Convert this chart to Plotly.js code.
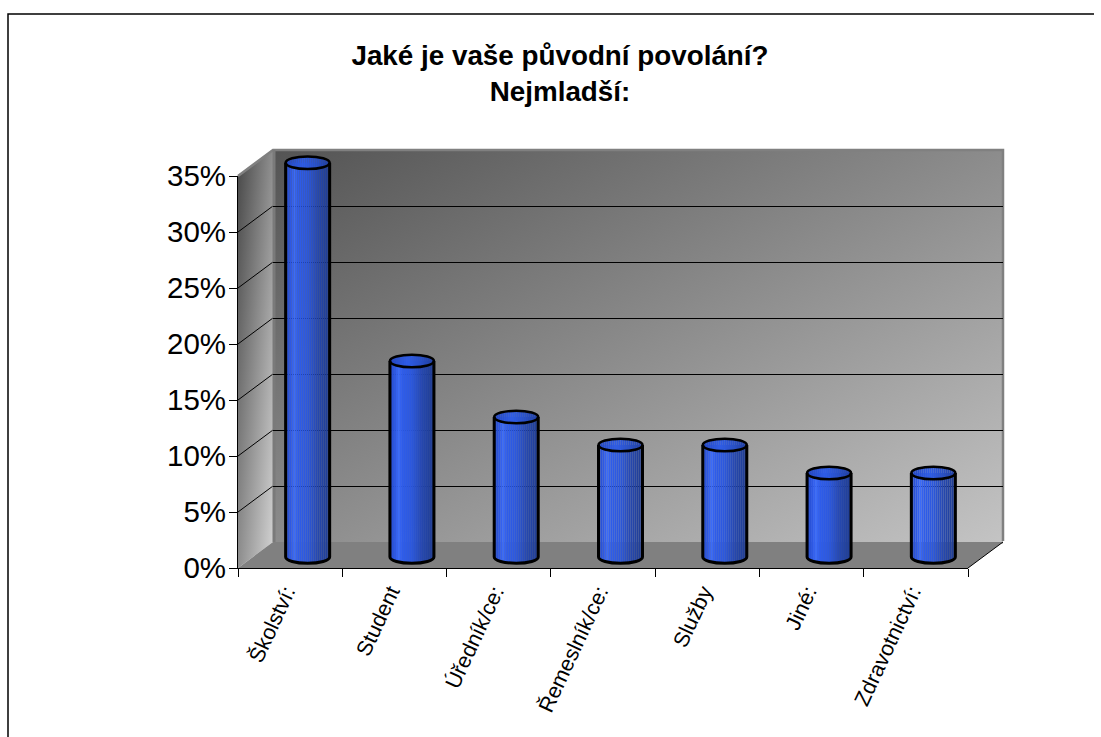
<!DOCTYPE html>
<html><head><meta charset="utf-8">
<script src="https://cdn.plot.ly/plotly-3.0.1.min.js"></script>
<style>html,body{margin:0;padding:0;background:#fff}#c{width:1101px;height:737px}</style></head>
<body><div id="c"></div>
<script>
var categories = ["Školství:", "Student", "Úředník/ce:", "Řemeslník/ce:", "Služby", "Jiné:", "Zdravotnictví:"];
var values = [35.2, 17.5, 12.5, 10, 10, 7.5, 7.5];
var gridTicks = [5, 10, 15, 20, 25, 30];
var chartTitle = "Jaké je vaše původní povolání?<br>Nejmladší:";

// pixel geometry of the pseudo-3D box
var L=238,R=1003,T=150,B=568,DX=35,DY=26,W=730,H=392,CW=W/7,VH=H/35,ZY=11;
var px=function(x){return (x-L)/(R-L)}, py=function(y){return (B-y)/(B-T)};
var RX=0.211, RY=0.56, N=22;

function lerpColor(stops,t){
  for(var i=1;i<stops.length;i++){ if(t<=stops[i][0]){
    var a=stops[i-1],b=stops[i],f=(t-a[0])/(b[0]-a[0]);
    var c=[0,1,2].map(function(k){return Math.round(a[1][k]+(b[1][k]-a[1][k])*f)});
    return 'rgb('+c.join(',')+')';
  }}
  var l=stops[stops.length-1][1]; return 'rgb('+l.join(',')+')';
}
var bodyStops=[[-1,[34,72,200]],[-0.72,[48,92,235]],[-0.6,[60,108,248]],[-0.45,[46,92,235]],[0,[44,88,221]],[0.45,[38,72,176]],[1,[32,60,144]]];
var capStops=[[-1,[36,70,190]],[-0.2,[46,92,230]],[0.4,[40,80,200]],[1,[32,62,160]]];

var traces=[
 {type:'scatter',mode:'none',x:[0,1],y:[0,35],xaxis:'x',yaxis:'y',hoverinfo:'skip',showlegend:false},
 {type:'scatter',mode:'none',x:categories,y:values,xaxis:'x2',yaxis:'y2',hoverinfo:'skip',showlegend:false}
];
for(var i=0;i<N;i++){
  var t=-1+(2*i+1)/N, sw=2*RX/N, off=-RX+i*sw, d=RY*Math.sqrt(1-t*t);
  traces.push({type:'bar',x:categories,y:values.map(function(v){return v+d}),base:-d,
    width:sw,offset:off,xaxis:'x3',yaxis:'y3',marker:{color:lerpColor(bodyStops,t),line:{width:0}},hoverinfo:'skip',showlegend:false});
}
for(var i=0;i<N;i++){
  var t=-1+(2*i+1)/N, sw=2*RX/N, off=-RX+i*sw, d=RY*Math.sqrt(1-t*t);
  traces.push({type:'bar',x:categories,y:values.map(function(){return 2*d}),base:values.map(function(v){return v-d}),
    width:sw,offset:off,xaxis:'x3',yaxis:'y3',marker:{color:lerpColor(capStops,t),line:{width:0}},hoverinfo:'skip',showlegend:false});
}

var shapes=[];
function pathShape(d,o){return Object.assign({type:'path',path:d,xref:'paper',yref:'paper',layer:'above',line:{width:0}},o||{})}
function P(x,y){return px(x).toFixed(5)+','+py(y).toFixed(5)}
shapes.push(pathShape('M'+P(8,737)+' L'+P(8,14)+' L'+P(1094,14),{line:{color:'#000',width:1.5},fillcolor:'rgba(0,0,0,0)'}));
gridTicks.forEach(function(v){
  var y=B-v*VH;
  shapes.push(pathShape('M'+P(L,y)+' L'+P(L+DX,y-DY),{line:{color:'#000',width:1},layer:'below'}));
});
shapes.push(pathShape('M'+P(L+W,B)+' L'+P(R,B-DY),{line:{color:'#000',width:1}}));
shapes.push(pathShape('M'+P(L,T+DY)+' L'+P(L+DX,T)+' L'+P(R,T)+' L'+P(R,B-DY-1),{line:{color:'#808080',width:2.5},fillcolor:'rgba(0,0,0,0)',layer:'below'}));
shapes.push(pathShape('M'+P(L+DX+1,T)+' L'+P(L+DX+1,B-DY),{line:{color:'#7a7a7a',width:3},fillcolor:'rgba(0,0,0,0)',layer:'below'}));
var K=0.5523;
values.forEach(function(v,i){
  var l=i-RX,r=i+RX,c=i;
  shapes.push({type:'path',xref:'x3',yref:'y3',layer:'above',fillcolor:'rgba(0,0,0,0)',line:{color:'#000',width:3},
    path:'M'+l+','+v+' L'+l+',0 C'+l+','+(-RY*K)+' '+(c-RX*K)+','+(-RY)+' '+c+','+(-RY)+' C'+(c+RX*K)+','+(-RY)+' '+r+','+(-RY*K)+' '+r+',0 L'+r+','+v});
  shapes.push({type:'circle',xref:'x3',yref:'y3',layer:'above',fillcolor:'rgba(0,0,0,0)',line:{color:'#000',width:2.5},
    x0:l,x1:r,y0:v-RY,y1:v+RY});
});

var svg="<svg xmlns='http://www.w3.org/2000/svg' width='765' height='418' viewBox='0 0 765 418'><defs>"+
 "<linearGradient id='w' x1='0' y1='0' x2='1' y2='1'><stop offset='0' stop-color='#545454'/><stop offset='1' stop-color='#c4c4c4'/></linearGradient>"+
 "<linearGradient id='s' x1='0' y1='0' x2='1' y2='1'><stop offset='0' stop-color='#484848'/><stop offset='1' stop-color='#d4d4d4'/></linearGradient>"+
 "</defs><polygon points='35,0 765,0 765,394 35,394' fill='url(#w)'/><polygon points='0,26 35,0 35,392 0,418' fill='url(#s)'/>"+
 "<polygon points='0,418 35,392 765,392 730,418' fill='#808080'/></svg>";

var layout={
  width:1101,height:737,paper_bgcolor:'#fff',plot_bgcolor:'rgba(0,0,0,0)',barmode:'overlay',showlegend:false,
  margin:{l:L,r:1101-R,t:T,b:737-B,pad:0},
  font:{family:'"Liberation Sans", Arial, sans-serif',color:'#000'},
  title:{text:chartTitle,font:{size:27.8,family:'"Liberation Sans", Arial, sans-serif',color:'#000',weight:'bold'},x:560/1101,xref:'container',xanchor:'center',y:1-64.5/737,yref:'container',yanchor:'top'},
  xaxis:{domain:[DX/(R-L),1],range:[0,1],visible:false,fixedrange:true},
  yaxis:{domain:[DY/(B-T),1],range:[0,35],tickvals:gridTicks,showgrid:true,gridcolor:'#000',gridwidth:1,zeroline:false,showline:false,showticklabels:false,ticks:'',fixedrange:true},
  xaxis2:{type:'category',categoryorder:'array',categoryarray:categories,domain:[0,W/(R-L)],range:[-0.5,6.5],anchor:'y2',tickson:'boundaries',ticks:'outside',ticklen:8,tickwidth:1,tickcolor:'#000',showline:true,linecolor:'#000',linewidth:1,showgrid:false,zeroline:false,tickangle:-65,ticklabelshift:-4,ticklabelstandoff:2,tickfont:{size:21.5},fixedrange:true},
  yaxis2:{domain:[0,H/(B-T)],range:[0,35],anchor:'x2',tickmode:'linear',tick0:0,dtick:5,ticksuffix:'%',ticks:'outside',ticklen:8,tickwidth:1,tickcolor:'#000',showline:true,linecolor:'#000',linewidth:1,showgrid:false,zeroline:false,ticklabelstandoff:-3,tickfont:{size:29.5},fixedrange:true},
  xaxis3:{type:'category',categoryorder:'array',categoryarray:categories,domain:[0,1],range:[-0.5-(DX/2)/CW,-0.5+(R-L-DX/2)/CW],anchor:'y3',visible:false,fixedrange:true},
  yaxis3:{domain:[0,1],range:[-ZY/VH,(B-T-ZY)/VH],anchor:'x3',visible:false,fixedrange:true},
  shapes:shapes,
  images:[{source:'data:image/svg+xml;charset=utf-8,'+encodeURIComponent(svg),xref:'paper',yref:'paper',x:0,y:1,sizex:1,sizey:1,sizing:'stretch',xanchor:'left',yanchor:'top',layer:'below'}]
};
Plotly.newPlot('c',traces,layout,{staticPlot:true,displayModeBar:false});
</script></body></html>
